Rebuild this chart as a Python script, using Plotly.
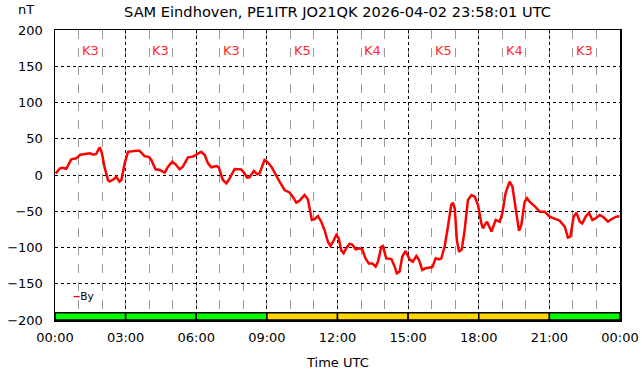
import plotly.graph_objects as go

# ---- data ----
hours = [0.03, 0.2, 0.31, 0.48, 0.69, 0.9, 1.07, 1.4, 1.5, 1.61, 1.75, 1.87, 1.92, 2.0, 2.1, 2.25, 2.32, 2.49, 2.6, 2.74, 2.82,
         2.96, 3.1, 3.45, 3.59, 3.8, 3.99, 4.09, 4.27, 4.44, 4.66, 4.8, 4.98, 5.12, 5.29, 5.43, 5.65, 5.86, 6.0, 6.21, 6.36,
         6.5, 6.64, 6.85, 6.95, 7.13, 7.28, 7.42, 7.63, 7.91, 8.05, 8.16, 8.26, 8.45, 8.59, 8.69, 8.9, 9.04, 9.19, 9.33,
         9.54, 9.75, 9.96, 10.1, 10.25, 10.39, 10.6, 10.74, 10.82, 10.91, 11.03, 11.17, 11.31, 11.45, 11.59, 11.7, 11.81,
         11.95, 12.05, 12.16, 12.26, 12.37, 12.51, 12.63, 12.77, 12.94, 13.05, 13.19, 13.33, 13.48, 13.62, 13.72, 13.86,
         13.93, 14.07, 14.29, 14.43, 14.52, 14.64, 14.75, 14.89, 15.06, 15.2, 15.35, 15.46, 15.6, 15.74, 15.91, 16.03,
         16.17, 16.31, 16.41, 16.55, 16.69, 16.83, 16.9, 16.98, 17.07, 17.16, 17.28, 17.4, 17.54, 17.69, 17.83, 17.97,
         18.11, 18.18, 18.25, 18.35, 18.54, 18.72, 18.89, 19.0, 19.14, 19.31, 19.43, 19.57, 19.71, 19.81, 19.95, 20.05,
         20.16, 20.37, 20.59, 20.8, 21.01, 21.44, 21.65, 21.79, 21.89, 22.03, 22.15, 22.29, 22.4, 22.54, 22.68, 22.83,
         22.96, 23.14, 23.3, 23.49, 23.63, 23.84, 23.98]
by_nT = [2, 9, 10, 8.7, 21.6, 23, 28, 29, 30, 28, 29, 36.8, 37, 29, 11.5, -6.9, -9, -6, -2.3, -9.2, -7,
         16, 32, 33.5, 33.5, 26, 25, 20.7, 7.8, 7, 3.2, 11.5, 18.4, 14.7, 7.8, 11.5, 24.4, 25.3, 27.6, 32, 27.6,
         16, 10.6, 12.4, 11, -6.9, -11.5, -4.6, 8.3, 7.8, 2.3, -3.7, -3.2, 5.5, 1, 2.3, 20.7, 17.5, 11.5, 2.3,
         -9.2, -20.7, -24, -30, -38, -35.4, -27.6, -33.6, -46, -62, -61, -56.6, -64.4, -75.9, -92, -98, -92,
         -82.8, -87.4, -104, -108, -101, -95, -96, -102.5, -101, -102.5, -115, -122, -122, -126.4, -119.5, -99,
         -98, -115, -116, -126.4, -135.6, -133, -112.7, -104.8, -116.3, -119.5, -111.7, -117, -131, -128.7, -127.4, -127,
         -115, -116.3, -115, -99, -71.3, -41.4, -38.2, -46, -89.7, -105.8, -102.5, -76, -34.5, -27.6, -30, -41.4,
         -66.7, -73.6, -69, -64.4, -78, -62, -64.4, -53, -25, -9.2, -16, -43.7, -77, -69, -36.8, -32,
         -36.8, -42.8, -50.6, -50.6, -57.5, -63, -71.3, -86.4, -85, -57.5, -52, -64.4, -66.7, -57.5, -52, -62,
         -59.8, -55.2, -58.3, -64.4, -61, -57.5, -57]

k_index = [3, 3, 3, 5, 4, 5, 4, 3]
block_start_h = [0, 3, 6, 9, 12, 15, 18, 21]
tick_hours = [0, 3, 6, 9, 12, 15, 18, 21, 24]
tick_labels = ["00:00", "03:00", "06:00", "09:00", "12:00", "15:00", "18:00", "21:00", "00:00"]
y_ticks = [-200, -150, -100, -50, 0, 50, 100, 150, 200]

title_text = "SAM Eindhoven, PE1ITR JO21QK 2026-04-02 23:58:01 UTC"

FONT = "DejaVu Sans"
block_centers = [b + 1.5 for b in block_start_h]
bar_colors = ["#00ff00" if k <= 3 else "#ffd700" for k in k_index]

fig = go.Figure()

fig.add_trace(go.Bar(
    x=block_centers, y=[10] * len(k_index), base=-200, width=3,
    marker=dict(color=bar_colors, line=dict(color="black", width=1.5)),
    showlegend=False, hoverinfo="skip"))

fig.add_trace(go.Scatter(
    x=hours, y=by_nT, mode="lines", name="By",
    line=dict(color="#ff0000", width=2.5), showlegend=False))

annotations = []
for c, k in zip(block_centers, k_index):
    annotations.append(dict(x=c, y=172, xref="x", yref="y", text=f"K{k}", showarrow=False,
                            font=dict(family=FONT, size=13, color="#ff2a2a")))
annotations.append(dict(x=-0.052, y=1.07, xref="paper", yref="paper", text="nT", showarrow=False,
                        xanchor="center", yanchor="middle",
                        font=dict(family=FONT, size=13, color="black")))
annotations.append(dict(x=0.029, y=0.082, xref="paper", yref="paper",
                        text="<span style='color:#ff0000'><b>‒</b></span>By", showarrow=False,
                        xanchor="left", yanchor="middle",
                        font=dict(family=FONT, size=10.5, color="black")))
annotations.append(dict(x=0.5, y=-0.145, xref="paper", yref="paper", text="Time UTC", showarrow=False,
                        xanchor="center", yanchor="middle",
                        font=dict(family=FONT, size=13, color="black")))

fig.update_layout(
    width=642, height=376,
    margin=dict(l=55, r=22, t=30, b=56, autoexpand=False),
    paper_bgcolor="white", plot_bgcolor="white",
    font=dict(family=FONT, size=13, color="black"),
    title=dict(text=title_text, xref="paper", x=0.5, xanchor="center", y=0.968, yanchor="middle",
               font=dict(family=FONT, size=14.6, color="black")),
    annotations=annotations,
    bargap=0,
    showlegend=False,
    xaxis=dict(range=[0, 24], tickvals=tick_hours, ticktext=tick_labels, automargin=False,
               showline=True, linecolor="black", linewidth=1.5, mirror=True,
               showgrid=True, gridcolor="black", griddash="dot", gridwidth=1,
               minor=dict(dtick=1, tick0=0, showgrid=True, gridcolor="#999999", griddash="dash", gridwidth=1),
               ticks="", ticklabelstandoff=5, zeroline=False),
    yaxis=dict(range=[-200, 200], tickvals=y_ticks, automargin=False,
               showline=True, linecolor="black", linewidth=1.5, mirror=True,
               showgrid=True, gridcolor="black", griddash="dot", gridwidth=1,
               ticks="", ticklabelstandoff=8, zeroline=False),
)

fig.write_html("out.html", config={"displayModeBar": False, "staticPlot": True},
               post_script="document.body.style.margin='0';document.body.style.overflow='hidden';")
